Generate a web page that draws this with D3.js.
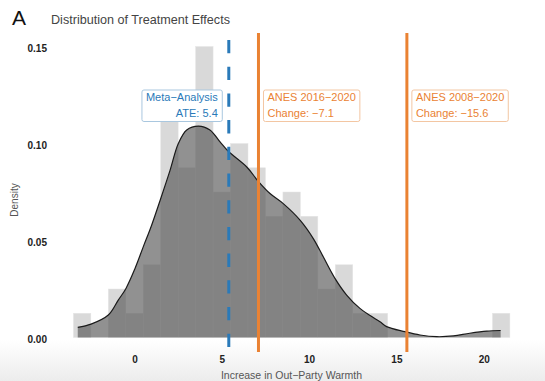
<!DOCTYPE html>
<html><head><meta charset="utf-8">
<script src="https://cdn.jsdelivr.net/npm/d3@7"></script>
<style>
html,body{margin:0;padding:0;background:#fff;}
text{font-family:"Liberation Sans",Arial,sans-serif;}
</style></head>
<body>
<svg id="chart" width="545" height="381"></svg>
<script>
// ---- data ----
const binCenters = [-3,-2,-1,0,1,2,3,4,5,6,7,8,9,10,11,12,13,14,15,16,17,18,19,20,21];
const binDensity = [0.0125,0,0.025,0.0125,0.0375,0.1125,0.0875,0.15,0.075,0.1,0.0875,0.0625,0.075,0.0625,0.025,0.0375,0.0125,0.0125,0,0,0,0,0,0,0.0125];
const densX = [-3.25,-2.49,-1.5,-0.93,-0.49,0.03,0.5,0.98,1.46,2.03,2.51,2.99,3.66,4.32,4.9,5.37,6.43,7.09,7.76,8.52,9.48,10.24,10.81,11.48,12.15,12.91,13.49,14.06,14.44,15.49,16.35,17.31,18.26,19.2,20.17,20.97];
const densY = [0.0052,0.0069,0.0116,0.0193,0.0253,0.0356,0.0467,0.0579,0.0705,0.086,0.100,0.107,0.109,0.107,0.1008,0.096,0.0879,0.0805,0.0742,0.069,0.0605,0.051,0.0416,0.0305,0.0219,0.015,0.0113,0.0081,0.0056,0.003,0.0013,0.0004,0.0008,0.0022,0.0033,0.0036];
const xTicks = [0,5,10,15,20];
const yTicks = [0,0.05,0.10,0.15];
const refNames = ["Meta\u2212Analysis","ANES 2016\u22122020","ANES 2008\u22122020"];
const refLabels = ["ATE: 5.4","Change: \u22127.1","Change: \u221215.6"];
const refValues = [5.4,7.1,15.6];
const refColors = ["#2a7ab9","#ea8233","#ea8233"];

const svg = d3.select("#chart");
const x = d3.scaleLinear().domain([-3.5,21.5]).range([73.4,509.9]);
const y = d3.scaleLinear().domain([0,0.15]).range([337.5,46.5]);
const bw = x(1)-x(0);

// faint bottom shading like the reference
const defs = svg.append("defs");
const g1 = defs.append("linearGradient").attr("id","bot").attr("x1",0).attr("y1",0).attr("x2",0).attr("y2",1);
g1.append("stop").attr("offset","0%").attr("stop-color","#ffffff");
g1.append("stop").attr("offset","100%").attr("stop-color","#ececec");
svg.append("rect").attr("x",0).attr("y",340).attr("width",545).attr("height",41).attr("fill","url(#bot)");

// histogram
svg.append("g").selectAll("rect").data(binCenters.map((c,i)=>({c,d:binDensity[i]})).filter(d=>d.d>0))
  .join("rect")
  .attr("x",d=>x(d.c)-bw/2).attr("width",bw)
  .attr("y",d=>y(d.d)).attr("height",d=>y(0)-y(d.d))
  .attr("fill","#d9d9d9").attr("stroke","#e6e6e6").attr("stroke-width",0.5);

// density
const pts = densX.map((v,i)=>[v,densY[i]]);
const area = d3.area().x(d=>x(d[0])).y0(y(0)).y1(d=>y(d[1])).curve(d3.curveCatmullRom);
const line = d3.line().x(d=>x(d[0])).y(d=>y(d[1])).curve(d3.curveCatmullRom);
svg.append("path").datum(pts).attr("d",area).attr("fill","#4d4d4d").attr("fill-opacity",0.62);
svg.append("path").datum(pts).attr("d",line).attr("fill","none").attr("stroke","#1a1a1a").attr("stroke-width",1.2);

// reference lines
refValues.forEach((v,i)=>{
  const l = svg.append("line").attr("x1",x(v)).attr("x2",x(v))
    .attr("y1", i===0?40:33).attr("y2",352)
    .attr("stroke",refColors[i]).attr("stroke-width",3);
  if(i===0) l.attr("stroke-dasharray","13.3,13.4");
});

// label boxes
refValues.forEach((v,i)=>{
  const g = svg.append("g");
  const right = i===0;
  const tx = right ? x(v)-11 : x(v)+9;
  const t = g.append("text").attr("fill",refColors[i]).attr("font-size",11)
    .attr("text-anchor", right?"end":"start");
  t.append("tspan").attr("x",tx).attr("y",101).text(refNames[i]);
  t.append("tspan").attr("x",tx).attr("y",117).text(refLabels[i]);
  const bb = t.node().getBBox();
  g.insert("rect","text").attr("x",bb.x-4).attr("y",90).attr("width",bb.width+8).attr("height",31.5)
    .attr("rx",2).attr("fill","#fff").attr("stroke", i===0?"#a9c7df":"#f3c6a2").attr("stroke-width",1);
});

// axes (text only)
const yAxis = d3.axisLeft(y).tickValues(yTicks).tickFormat(d3.format(".2f")).tickSize(0).tickPadding(0);
const ga = svg.append("g").attr("transform","translate(47,2)").call(yAxis);
ga.select(".domain").remove();
ga.selectAll("text").attr("font-size",10).attr("font-weight","bold").attr("fill","#222").style("font-family","'Liberation Sans',Arial,sans-serif");

const xAxis = d3.axisBottom(x).tickValues(xTicks).tickFormat(d3.format("d")).tickSize(0).tickPadding(0);
const gx = svg.append("g").attr("transform","translate(0,356)").call(xAxis);
gx.select(".domain").remove();
gx.selectAll("text").attr("font-size",10).attr("font-weight","bold").attr("fill","#222").style("font-family","'Liberation Sans',Arial,sans-serif");

svg.append("text").attr("x",291.5).attr("y",379).attr("text-anchor","middle")
  .attr("font-size",10.5).attr("fill","#555").text("Increase in Out\u2212Party Warmth");
svg.append("text").attr("transform","translate(18,200) rotate(-90)").attr("text-anchor","middle")
  .attr("font-size",10).attr("fill","#555").text("Density");

// title
svg.append("text").attr("x",12).attr("y",25).attr("font-size",21).attr("fill","#111").text("A");
svg.append("text").attr("x",51).attr("y",24).attr("font-size",12.6).attr("fill","#444").text("Distribution of Treatment Effects");
</script>
</body></html>
